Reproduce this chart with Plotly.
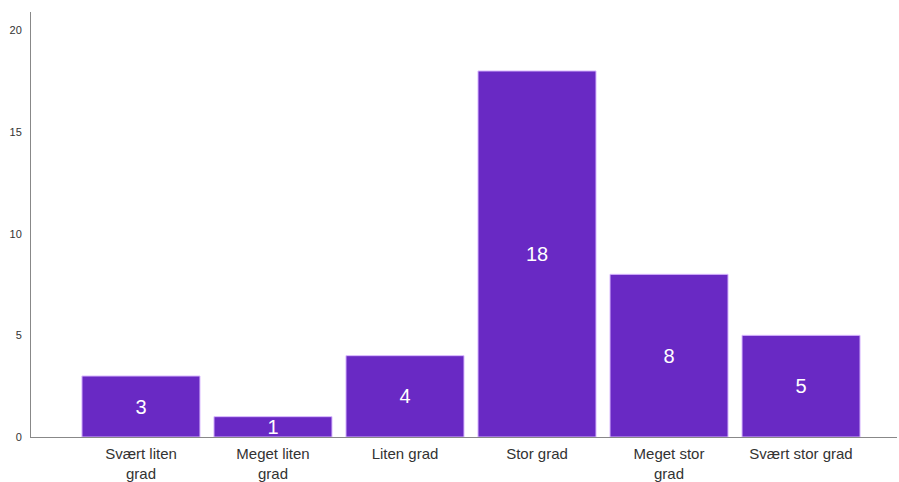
import plotly.graph_objects as go

categories = ["Svært liten<br>grad", "Meget liten<br>grad", "Liten grad", "Stor grad", "Meget stor<br>grad", "Svært stor grad"]
counts = [3, 1, 4, 18, 8, 5]
y_ticks = [0, 5, 10, 15, 20]

fig = go.Figure(go.Bar(
    x=list(range(len(categories))),
    y=counts,
    text=[str(c) for c in counts],
    textposition="inside",
    insidetextanchor="middle",
    textangle=0,
    constraintext="none",
    textfont=dict(color="white", size=20, family="Liberation Sans, Arial, sans-serif"),
    marker=dict(color="#6929C4", line=dict(color="#D9B8FF", width=1)),
    hoverinfo="skip",
))

fig.update_layout(
    width=899, height=482,
    margin=dict(l=31, r=2, t=12, b=45),
    paper_bgcolor="white", plot_bgcolor="white",
    bargap=0.106,
    showlegend=False,
    font=dict(family="Liberation Sans, Arial, sans-serif", color="#333333"),
    xaxis=dict(
        tickmode="array",
        tickvals=list(range(len(categories))),
        ticktext=categories,
        range=[-0.833, 5.727],
        showline=True, linecolor="#888888", linewidth=1,
        showgrid=False, zeroline=False, ticks="",
        tickfont=dict(size=15, color="#333333"),
        ticklabelstandoff=3,
        automargin=False,
    ),
    yaxis=dict(
        range=[0, 20.9],
        tickvals=y_ticks,
        showline=True, linecolor="#888888", linewidth=1,
        showgrid=False, zeroline=False, ticks="",
        tickfont=dict(size=11, color="#333333"),
        ticklabelstandoff=6,
        automargin=False,
    ),
)

fig.write_html(
    "out.html",
    config={"displayModeBar": False},
    post_script="document.body.style.margin='0';document.body.style.overflow='hidden';",
)
